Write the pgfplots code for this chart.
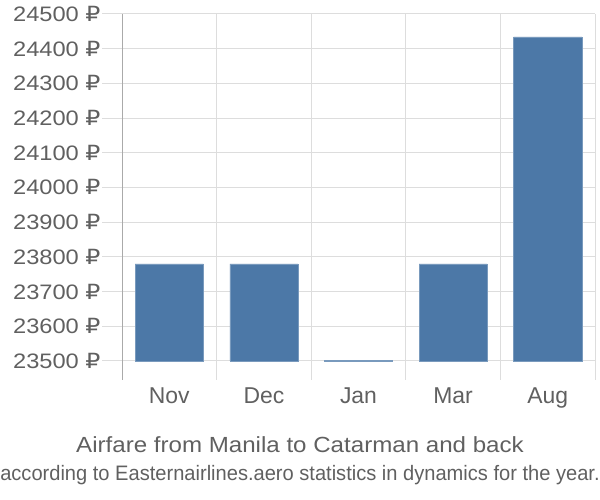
\documentclass[border=0pt]{standalone}
\usepackage{fontspec}
\setmainfont{Liberation Sans}
\newfontfamily\rub{DejaVu Sans}
\usepackage{pgfplots}
\pgfplotsset{compat=1.18}
\definecolor{barblue}{RGB}{76,120,167}
\definecolor{gridgray}{RGB}{221,221,221}
\definecolor{axisgray}{RGB}{170,170,170}
\definecolor{textgray}{RGB}{96,96,96}
\newcommand{\yl}[1]{\scalebox{1.13}[1]{#1 {\rub ₽}}}
\begin{document}
\begin{tikzpicture}
\useasboundingbox (0,0) rectangle (600bp,500bp);
\begin{axis}[
  at={(122bp,120bp)}, anchor=south west,
  scale only axis, width=473bp, height=366bp,
  xmin=-0.5, xmax=4.5,
  ymin=-55, ymax=1000,
  scaled y ticks=false,
  axis x line*=bottom,
  x axis line style={draw=none},
  axis y line*=left,
  y axis line style={draw=axisgray, line width=1pt},
  ytick={0,100,...,1000},
  yticklabels={\yl{23500},\yl{23600},\yl{23700},\yl{23800},\yl{23900},\yl{24000},\yl{24100},\yl{24200},\yl{24300},\yl{24400},\yl{24500}},
  ymajorgrids,
  major grid style={draw=gridgray, line width=1pt},
  ytick style={draw=gridgray, line width=1pt},
  tick align=outside, major tick length=20bp,
  yticklabel style={font=\fontsize{21}{24}\selectfont, text=textgray, xshift=2bp},
  xtick={0,1,2,3,4},
  xticklabels={Nov,Dec,Jan,Mar,Aug},
  xtick style={draw=none},
  xticklabel style={font=\fontsize{23}{26}\selectfont, text=textgray, yshift=15.5bp},
  minor xtick={-0.5,0.5,1.5,2.5,3.5,4.5},
  xminorgrids,
  minor grid style={draw=gridgray, line width=1pt},
  minor tick style={draw=none},
  clip=false,
]
\addplot[ybar, bar width=0.72, fill=barblue, draw=barblue!75!white, bar shift=0pt,
  y filter/.expression={y-23500}] coordinates {
  (0,23780) (1,23780) (2,23502) (3,23780) (4,24434)
};
\end{axis}
\node[text=textgray, font=\fontsize{22}{24}\selectfont] at (300bp,55bp) {\scalebox{1.1}[1]{Airfare from Manila to Catarman and back}};
\node[text=textgray, font=\fontsize{21}{24}\selectfont] at (300bp,25bp) {\scalebox{0.96}[1]{according to Easternairlines.aero statistics in dynamics for the year.}};
\end{tikzpicture}
\end{document}
